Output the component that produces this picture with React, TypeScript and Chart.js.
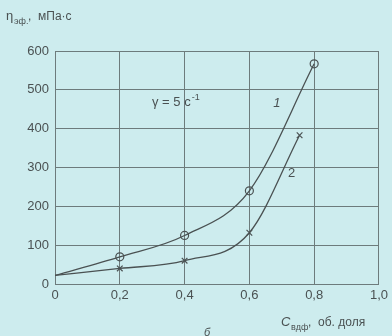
import React, { useEffect, useRef } from "react";
import { Chart, registerables } from "chart.js";

Chart.register(...registerables);

const conc1 = [0, 0.2, 0.4, 0.6, 0.8];
const visc1 = [22, 70, 125, 240, 567];
const conc2 = [0, 0.2, 0.4, 0.6, 0.755];
const visc2 = [22, 40, 60, 132, 383];
const xTicks = [0, 0.2, 0.4, 0.6, 0.8, 1.0];
const yTicks = [0, 100, 200, 300, 400, 500, 600];

const INK = "#4a5152";
const GRID = "#6d7b7c";
const FONT = "'Liberation Sans', Arial, sans-serif";

const fmt = (v: number) => (v === 0 ? "0" : v.toFixed(1).replace(".", ","));

const textPlugin = {
  id: "texts",
  afterDraw(chart: any) {
    const ctx = chart.ctx;
    const xs = chart.scales.x;
    const ys = chart.scales.y;
    ctx.save();
    ctx.fillStyle = INK;
    ctx.textBaseline = "alphabetic";
    ctx.textAlign = "left";
    // Y title
    ctx.font = `13px ${FONT}`;
    ctx.fillText("η", 6, 20);
    ctx.font = `9px ${FONT}`;
    ctx.fillText("эф.", 14, 24);
    ctx.font = `12px ${FONT}`;
    ctx.fillText(",  мПа·с", 28, 20);
    // gamma
    ctx.font = `13px ${FONT}`;
    const g = "γ = 5 с";
    ctx.fillText(g, 152, 106);
    const gw = ctx.measureText(g).width;
    ctx.font = `9px ${FONT}`;
    ctx.fillText("-1", 152 + gw + 1, 100);
    // curve labels
    ctx.font = `italic 13px ${FONT}`;
    ctx.textAlign = "center";
    ctx.fillText("1", xs.getPixelForValue(0.685), ys.getPixelForValue(455));
    ctx.font = `13px ${FONT}`;
    ctx.fillText("2", xs.getPixelForValue(0.73), ys.getPixelForValue(275));
    // x title
    ctx.textAlign = "left";
    ctx.font = `italic 13px ${FONT}`;
    ctx.fillText("C", 281, 326);
    ctx.font = `9px ${FONT}`;
    ctx.fillText("вдф", 291, 330);
    ctx.font = `12px ${FONT}`;
    ctx.fillText(",  об. доля", 308, 326);
    ctx.font = `italic 11px ${FONT}`;
    ctx.fillText("б", 204, 336);
    ctx.restore();
  },
};

export default function App() {
  const ref = useRef<HTMLCanvasElement>(null);
  useEffect(() => {
    const chart = new Chart(ref.current!, {
      type: "line",
      data: {
        datasets: [
          {
            data: conc1.map((x, i) => ({ x, y: visc1[i] })),
            borderColor: INK,
            borderWidth: 1.3,
            pointStyle: "circle",
            pointRadius: conc1.map((_, i) => (i === 0 ? 0 : 4)),
            pointBorderColor: INK,
            pointBackgroundColor: "rgba(0,0,0,0)",
            pointBorderWidth: 1.2,
            cubicInterpolationMode: "monotone",
          },
          {
            data: conc2.map((x, i) => ({ x, y: visc2[i] })),
            borderColor: INK,
            borderWidth: 1.3,
            pointStyle: "crossRot",
            pointRadius: conc2.map((_, i) => (i === 0 ? 0 : 4)),
            pointBorderColor: INK,
            pointBorderWidth: 1.2,
            cubicInterpolationMode: "monotone",
          },
        ],
      },
      options: {
        animation: false,
        responsive: false,
        events: [],
        layout: { padding: { top: 51, right: 12, left: 0, bottom: 0 } },
        plugins: { legend: { display: false }, tooltip: { enabled: false } },
        scales: {
          x: {
            type: "linear",
            min: 0,
            max: 1,
            afterBuildTicks: (s: any) => {
              s.ticks = xTicks.map((v) => ({ value: v }));
            },
            afterFit: (s: any) => {
              s.height = 52;
            },
            grid: { color: GRID, lineWidth: 1, drawTicks: false },
            border: { color: GRID, width: 1 },
            ticks: {
              color: INK,
              font: { family: FONT, size: 13 },
              padding: 4,
              maxRotation: 0,
              callback: (v: any) => fmt(Number(v)),
            },
          },
          y: {
            min: 0,
            max: 600,
            afterBuildTicks: (s: any) => {
              s.ticks = yTicks.map((v) => ({ value: v }));
            },
            afterFit: (s: any) => {
              s.width = 55;
            },
            grid: { color: GRID, lineWidth: 1, drawTicks: false },
            border: { color: GRID, width: 1 },
            ticks: {
              color: INK,
              font: { family: FONT, size: 13 },
              padding: 6,
              callback: (v: any) => String(v),
            },
          },
        },
      },
      plugins: [textPlugin],
    } as any);
    return () => chart.destroy();
  }, []);
  return (
    <div
      style={{
        position: "fixed",
        left: 0,
        top: 0,
        width: 392,
        height: 336,
        background: "#cdecee",
      }}
    >
      <canvas ref={ref} width={392} height={336} style={{ display: "block" }} />
    </div>
  );
}
